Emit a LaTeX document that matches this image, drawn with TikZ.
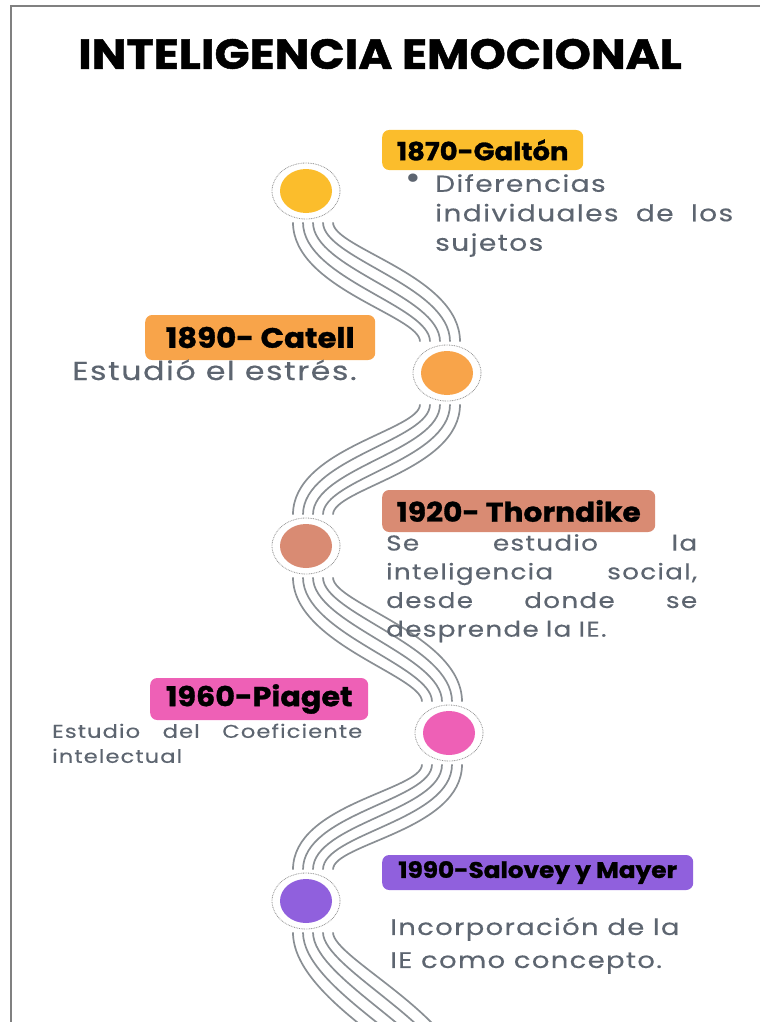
\documentclass[tikz,border=0pt]{standalone}
\usepackage{fontspec}
\setmainfont{Poppins}[FakeStretch=1.12]
\newfontfamily\headfont{Poppins}[FakeStretch=1.1, FakeBold=1.2]
\newfontfamily\notefont{Poppins}[FakeStretch=1.22, LetterSpace=6, FakeBold=0.4]
\usetikzlibrary{shapes.geometric}
\definecolor{galton}{HTML}{FBBD2C}
\definecolor{catell}{HTML}{F8A44A}
\definecolor{thorn}{HTML}{D98B73}
\definecolor{piaget}{HTML}{EE60B6}
\definecolor{salovey}{HTML}{9060DD}
\definecolor{notegray}{HTML}{5D6570}
\definecolor{wiregray}{HTML}{8A8F94}
\tikzset{ring/.style={ellipse, draw=gray!85, dash pattern=on 0.8pt off 0.9pt, line width=0.8pt, fill=white, inner sep=0pt, minimum width=68pt, minimum height=56pt}}
\tikzset{spot/.style={ellipse, inner sep=0pt, minimum width=52pt, minimum height=44pt}}
\tikzset{yearbox/.style={rounded corners=7pt, inner sep=0pt, anchor=west, text=black}}
\tikzset{note/.style={inner sep=0pt, text=notegray, align=left}}
\tikzset{wire/.style={draw=wiregray, line width=1.7pt}}

\begin{document}
\begin{tikzpicture}[x=1pt,y=-1pt]
  \useasboundingbox (0,0) rectangle (760,1022);
  \clip (0,0) rectangle (760,1022);
  \draw[gray, line width=1.2pt] (11,1022) -- (11,6) -- (760,6);
  \node[font=\headfont\bfseries\fontsize{42}{42}\selectfont] (title) at (380,54) {INTELIGENCIA EMOCIONAL};
  % timeline
  \foreach \x/\y/\lab/\col in {
    306/191/c1/galton,
    447/373/c2/catell,
    306/546/c3/thorn,
    449/733/c4/piaget,
    306/901/c5/salovey%
  } {
    \node[ring] (\lab) at (\x,\y) {};
    \node[spot, fill=\col] at (\lab) {};
  }
  \coordinate (c6) at (445,1085);
  % going down to the right
  \foreach \u/\v in {c1/c2, c3/c4}{
    \foreach \d in {-20,-10,0,10,20}{
      \draw[wire] ([xshift=\d pt+7pt, yshift=-3pt]\u.south) .. controls +(0,46-\d) and +(0,-46-\d) .. ([xshift=\d pt-7pt, yshift=3pt]\v.north);
    }
  }
  % going down to the left
  \foreach \u/\v in {c2/c3, c4/c5}{
    \foreach \d in {-20,-10,0,10,20}{
      \draw[wire] ([xshift=\d pt-7pt, yshift=-3pt]\u.south) .. controls +(0,46+\d) and +(0,-46+\d) .. ([xshift=\d pt+7pt, yshift=3pt]\v.north);
    }
  }
  \foreach \d in {-20,-10,0,10,20}{
    \draw[wire] ([xshift=\d pt+7pt, yshift=-3pt]c5.south) .. controls +(0,46-\d) and +(0,-46-\d) .. ([xshift=\d pt]c6);
  }
  % years
  \node[yearbox, fill=galton, minimum width=201pt, minimum height=40pt, font=\headfont\bfseries\fontsize{25}{25}\selectfont] (galton) at (382,150) {1870-Galtón};
  \node[yearbox, fill=catell, minimum width=230pt, minimum height=45pt, font=\headfont\bfseries\fontsize{28}{28}\selectfont] (catell) at (145,337.5) {1890- Catell};
  \node[yearbox, fill=thorn, minimum width=273pt, minimum height=42pt, font=\headfont\bfseries\fontsize{27}{27}\selectfont] (thorn) at (382,511) {1920- Thorndike};
  \node[yearbox, fill=piaget, minimum width=218pt, minimum height=42pt, font=\headfont\bfseries\fontsize{27.5}{27.5}\selectfont] (piaget) at (150,699) {1960-Piaget};
  \node[yearbox, fill=salovey, minimum width=311pt, minimum height=35pt, font=\headfont\bfseries\fontsize{22.5}{22.5}\selectfont] (salovey) at (382,872.5) {1990-Salovey y Mayer};
  % notes
  \node[note, font=\fontsize{34}{34}\selectfont] (bullet) at (413,182) {•};
  \node[note, anchor=north west, text width=298pt, font=\notefont\fontsize{23}{29.5}\selectfont] (galtonnote) at (435,174)
    {Diferencias\\ individuales\hfill de\hfill los\\ sujetos};
  \node[note, anchor=base west, font=\notefont\fontsize{26}{26}\selectfont] (catellnote) at (72,380) {Estudió el estrés.};
  \node[note, anchor=north west, text width=311pt, font=\notefont\fontsize{21.5}{28.7}\selectfont] (thornnote) at (386,534)
    {Se\hfill estudio\hfill la\\ inteligencia\hfill social,\\ desde\hfill donde\hfill se\\ desprende la IE.};
  \node[note, anchor=north west, text width=310pt, font=\notefont\fontsize{18.5}{25}\selectfont] (piagetnote) at (52,723.5)
    {Estudio\hfill del\hfill Coeficiente\\ intelectual};
  \node[note, anchor=north west, font=\notefont\fontsize{22.5}{33}\selectfont] (saloveynote) at (390,917)
    {Incorporación de la\\ IE como concepto.};
\end{tikzpicture}
\end{document}
